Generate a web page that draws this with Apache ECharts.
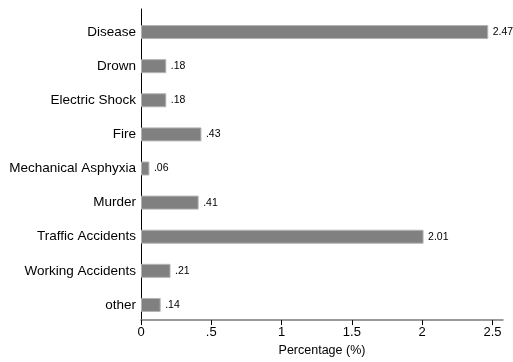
<!DOCTYPE html>
<html><head><meta charset="utf-8">
<script src="https://cdn.jsdelivr.net/npm/echarts@6/dist/echarts.min.js"></script>
<style>html,body{margin:0;padding:0;background:#fff}#c{width:513px;height:362px}</style>
</head><body><div id="c"></div>
<script>
var categories = ["Disease","Drown","Electric Shock","Fire","Mechanical Asphyxia","Murder","Traffic Accidents","Working Accidents","other"];
var values = [2.47,0.18,0.18,0.43,0.06,0.41,2.01,0.21,0.14];
var xTicks = [0,0.5,1,1.5,2,2.5];
var xMax = 2.575;
function fmt(v){var s=v.toFixed(2).replace(/0+$/,'').replace(/\.$/,''); if(s.indexOf('0.')===0) s=s.slice(1); return s;}
var chart = echarts.init(document.getElementById('c'), null, {renderer:'canvas'});
var font = 'Liberation Sans, Arial, sans-serif';
chart.setOption({
  animation:false,
  grid:[
    {left:141,right:10,top:9,bottom:34},
    {left:141,right:10,top:15,bottom:40}
  ],
  xAxis:[
    {gridIndex:0,type:'value',min:0,max:xMax,
     axisLine:{show:true,lineStyle:{color:'#7a7a7a',width:1.5}},
     axisTick:{show:true,inside:false,length:5,customValues:xTicks,lineStyle:{color:'#000'}},
     axisLabel:{customValues:xTicks,formatter:function(v){return fmt(v);},color:'#000',fontSize:13,fontFamily:font,margin:6},
     splitLine:{show:false},
     name:'Percentage (%)',nameLocation:'middle',nameGap:22,nameTextStyle:{color:'#000',fontSize:12.5,fontFamily:font}},
    {gridIndex:1,type:'value',min:0,max:xMax,show:false,splitLine:{show:false}}
  ],
  yAxis:[
    {gridIndex:0,type:'value',min:0,max:1,axisLine:{show:true,lineStyle:{color:'#000',width:1}},axisTick:{show:false},axisLabel:{show:false},splitLine:{show:false}},
    {gridIndex:1,type:'category',data:categories,inverse:true,
     axisLine:{show:false},axisTick:{show:false},
     axisLabel:{color:'#000',fontSize:13.5,fontFamily:font,margin:5}}
  ],
  series:[{
    type:'bar',xAxisIndex:1,yAxisIndex:1,data:values,barWidth:14,
    itemStyle:{color:'#808080',borderColor:'#b4b4b4',borderWidth:1},
    label:{show:true,position:'right',distance:4.5,formatter:function(p){return fmt(p.value);},color:'#000',fontSize:10.5,fontFamily:font}
  }]
});
</script></body></html>
